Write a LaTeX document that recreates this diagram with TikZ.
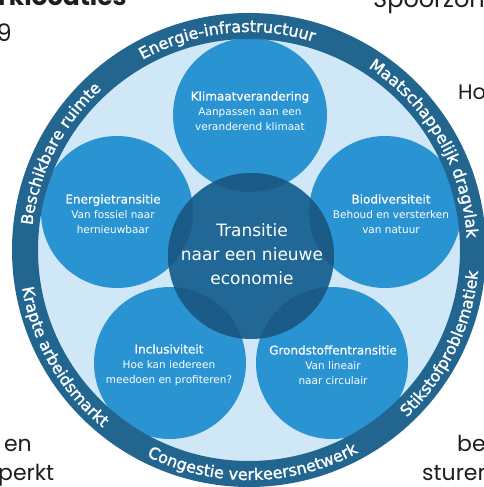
\documentclass[tikz,border=0pt]{standalone}
\usepackage{fontspec}
\setmainfont{DejaVu Sans}
\newfontfamily\pagefont{Poppins}
\newfontfamily\ringfam[FakeBold=1.5]{DejaVu Sans}
\newfontfamily\titlefam[FakeBold=0.8]{DejaVu Sans}
\usetikzlibrary{decorations.text,calc}

\definecolor{ringblue}{RGB}{34,102,143}
\definecolor{paleblue}{RGB}{207,231,246}
\definecolor{midblue}{RGB}{42,148,210}
\definecolor{coreblue}{RGB}{33,104,150}
\definecolor{coredark}{RGB}{27,91,136}
\definecolor{pageink}{RGB}{30,30,30}

\newcommand\themetitle{\titlefam\fontsize{12}{15}\selectfont}
\newcommand\ringfont{\ringfam\fontsize{16}{16}\selectfont}

\begin{document}
\begin{tikzpicture}[x=1pt,y=1pt,
  disc/.style={circle, fill=midblue, inner sep=0pt},
  themetext/.style={align=center, text=white, inner sep=0pt,
    font=\fontsize{10.5}{15}\selectfont},
  coretext/.style={align=center, text=white, inner sep=0pt,
    font=\fontsize{17}{24}\selectfont},
  pagetext/.style={text=pageink, inner sep=0pt, font=\pagefont\fontsize{22}{22}\selectfont},
  ringlabel/.style={decorate, decoration={text along path, text align=center,
    text color=white, text={|\ringfont|#1}}}]

\useasboundingbox (0,0) rectangle (484,487);
\fill[white] (0,0) rectangle (484,487);
\clip (0,0) rectangle (484,487);

% surrounding page text
\node[pagetext, anchor=base west, font=\pagefont\bfseries\fontsize{25}{25}\selectfont] (pA) at (-2,481) {rklocaties};
\node[pagetext, anchor=base east, font=\pagefont\fontsize{24}{24}\selectfont] (pB) at (12,445) {9};
\node[pagetext, anchor=base west, font=\pagefont\fontsize{24}{24}\selectfont] (pC) at (373,479) {Spoorzone};
\node[pagetext, anchor=base west, font=\pagefont\fontsize{21}{21}\selectfont] (pD) at (458,387) {Ho};
\node[pagetext, anchor=base east] (pE) at (32,35) {en};
\node[pagetext, anchor=base west] (pF) at (-2,6) {perkt};
\node[pagetext, anchor=base west] (pG) at (457,35) {be};
\node[pagetext, anchor=base west] (pH) at (422,6) {sturen};

% wheel
\coordinate (O) at (249,237);
\fill[paleblue] (O) circle[radius=212];

\node[disc, minimum size=154pt] (cKlimaat) at (250,372) {};
\node[disc, minimum size=152pt] (cEnergie) at (117,275) {};
\node[disc, minimum size=152pt] (cBio) at (385,275) {};
\node[disc, minimum size=152pt] (cIncl) at (170,124) {};
\node[disc, minimum size=152pt] (cGrond) at (332,124) {};

\coordinate (C) at (251,231);
\fill[coreblue] (C) circle[radius=83];
\foreach \d/\r in {cKlimaat/77, cEnergie/76, cBio/76, cIncl/76, cGrond/76}{
  \begin{scope}
    \clip (\d.center) circle[radius=\r];
    \fill[coredark] (C) circle[radius=83];
  \end{scope}
}

\fill[ringblue, even odd rule] (O) circle[radius=237] (O) circle[radius=211];

% theme texts
\node[themetext] (tKlimaat) at (250,376) {{\themetitle Klimaatverandering}\\Aanpassen aan een\\veranderend klimaat};
\node[themetext] (tEnergie) at (113,273) {{\themetitle Energietransitie}\\Van fossiel naar\\hernieuwbaar};
\node[themetext] (tBio) at (391,273) {{\themetitle Biodiversiteit}\\Behoud en versterken\\van natuur};
\node[themetext] (tIncl) at (169,122) {{\themetitle Inclusiviteit}\\Hoe kan iedereen\\meedoen en profiteren?};
\node[themetext] (tGrond) at (333,122) {{\themetitle Grondstoffentransitie}\\Van lineair\\naar circulair};

\node[coretext] (core) at (252,233) {Transitie\\naar een nieuwe\\economie};

% labels around the ring
\path[ringlabel={Energie-infrastructuur}] ($(O)+(156:218)$) arc[start angle=156, end angle=36, radius=218];
\path[ringlabel={Maatschappelijk dragvlak}] ($(O)+(90:218)$) arc[start angle=90, end angle=-30, radius=218];
\path[ringlabel={Beschikbare ruimte}] ($(O)+(213:218)$) arc[start angle=213, end angle=93, radius=218];
\path[ringlabel={Stikstofproblematiek}] ($(O)+(-86:230)$) arc[start angle=-86, end angle=34, radius=230];
\path[ringlabel={Congestie verkeersnetwerk}] ($(O)+(-149:230)$) arc[start angle=-149, end angle=-29, radius=230];
\path[ringlabel={Krapte arbeidsmarkt}] ($(O)+(150:230)$) arc[start angle=150, end angle=270, radius=230];

\end{tikzpicture}
\end{document}
